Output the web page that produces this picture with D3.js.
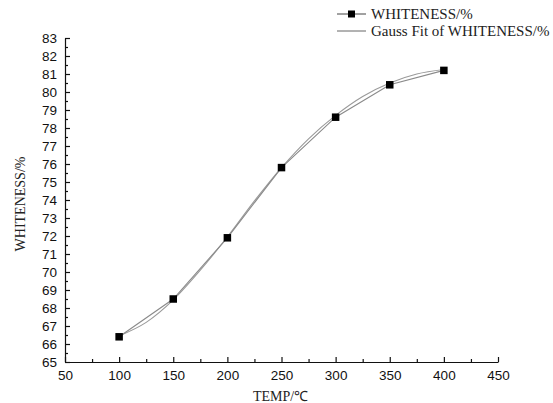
<!DOCTYPE html>
<html>
<head>
<meta charset="utf-8">
<script src="https://cdn.jsdelivr.net/npm/d3@7"></script>
<style>
  body { margin: 0; background: #fff; }
  svg { display: block; }
</style>
</head>
<body>
<svg id="chart" width="553" height="403"></svg>
<script>
// measured data
const TEMPS = [100, 150, 200, 250, 300, 350, 400];
const WHITENESS = [66.4, 68.5, 71.9, 75.8, 78.6, 80.4, 81.2];

// gauss fit curve
const FIT_TEMPS = [100, 125, 150, 175, 200, 225, 250, 275, 300, 325, 350, 375, 400];
const FIT_VALUES = [66.45, 67.2, 68.45, 70.1, 71.95, 73.95, 75.8, 77.4, 78.7, 79.75, 80.5, 81.0, 81.25];

const X_TICKS = [50, 100, 150, 200, 250, 300, 350, 400, 450];
const Y_TICKS = d3.range(65, 84, 1);

const svg = d3.select('#chart');
const plotL = 65, plotR = 498, plotT = 38, plotB = 362;

const x = d3.scaleLinear().domain([50, 450]).range([plotL, plotR]);
const y = d3.scaleLinear().domain([65, 83]).range([plotB, plotT]);

// minor ticks
svg.append('g')
  .attr('transform', `translate(0,${plotB})`)
  .call(d3.axisBottom(x).tickValues(d3.range(75, 450, 50)).tickSizeInner(-3).tickSizeOuter(0).tickFormat(''))
  .call(g => g.select('.domain').remove());
svg.append('g')
  .attr('transform', `translate(${plotL},0)`)
  .call(d3.axisLeft(y).tickValues(d3.range(65.5, 83, 1)).tickSizeInner(-3).tickSizeOuter(0).tickFormat(''))
  .call(g => g.select('.domain').remove());

// major axes
svg.append('g')
  .attr('transform', `translate(0,${plotB})`)
  .call(d3.axisBottom(x).tickValues(X_TICKS).tickSizeInner(-5).tickSizeOuter(0).tickPadding(8));
svg.append('g')
  .attr('transform', `translate(${plotL},0)`)
  .call(d3.axisLeft(y).tickValues(Y_TICKS).tickSizeInner(-5).tickSizeOuter(0).tickPadding(8));

svg.selectAll('.tick line, .domain').attr('stroke', '#111').attr('stroke-width', 1.2);
svg.selectAll('.tick text')
  .attr('font-family', 'Liberation Sans, Arial, sans-serif')
  .attr('font-size', 13.5)
  .attr('fill', '#111');

// axis titles
svg.append('text')
  .attr('x', (plotL + plotR) / 2 - 1)
  .attr('y', 401)
  .attr('text-anchor', 'middle')
  .attr('font-family', 'Liberation Serif, Times New Roman, serif')
  .attr('font-size', 14)
  .attr('fill', '#222')
  .text('TEMP/℃');

svg.append('text')
  .attr('transform', `translate(25,204) rotate(-90)`)
  .attr('text-anchor', 'middle')
  .attr('font-family', 'Liberation Serif, Times New Roman, serif')
  .attr('font-size', 14)
  .attr('fill', '#222')
  .text('WHITENESS/%');

// fit curve
const fitLine = d3.line()
  .x((d, i) => x(FIT_TEMPS[i]))
  .y(d => y(d))
  .curve(d3.curveMonotoneX);
svg.append('path')
  .datum(FIT_VALUES)
  .attr('d', fitLine)
  .attr('fill', 'none')
  .attr('stroke', '#9a9a9a')
  .attr('stroke-width', 1.1);

// data line
const dataLine = d3.line()
  .x((d, i) => x(TEMPS[i]))
  .y(d => y(d));
svg.append('path')
  .datum(WHITENESS)
  .attr('d', dataLine)
  .attr('fill', 'none')
  .attr('stroke', '#8a8a8a')
  .attr('stroke-width', 1.1);

// markers
const ms = 7.5;
svg.append('g')
  .selectAll('rect')
  .data(WHITENESS)
  .enter().append('rect')
    .attr('x', (d, i) => x(TEMPS[i]) - ms / 2)
    .attr('y', d => y(d) - ms / 2)
    .attr('width', ms)
    .attr('height', ms)
    .attr('fill', '#000');

// legend
const legend = svg.append('g').attr('font-family', 'Liberation Serif, Times New Roman, serif').attr('font-size', 15);
legend.append('line').attr('x1', 337).attr('x2', 366).attr('y1', 14).attr('y2', 14).attr('stroke', '#444').attr('stroke-width', 1);
legend.append('rect').attr('x', 348).attr('y', 10.5).attr('width', 7).attr('height', 7).attr('fill', '#000');
legend.append('text').attr('x', 371).attr('y', 19).attr('fill', '#222').text('WHITENESS/%');
legend.append('line').attr('x1', 337).attr('x2', 366).attr('y1', 31).attr('y2', 31).attr('stroke', '#666').attr('stroke-width', 1);
legend.append('text').attr('x', 371).attr('y', 36).attr('fill', '#222').text('Gauss Fit of WHITENESS/%');
</script>
</body>
</html>
